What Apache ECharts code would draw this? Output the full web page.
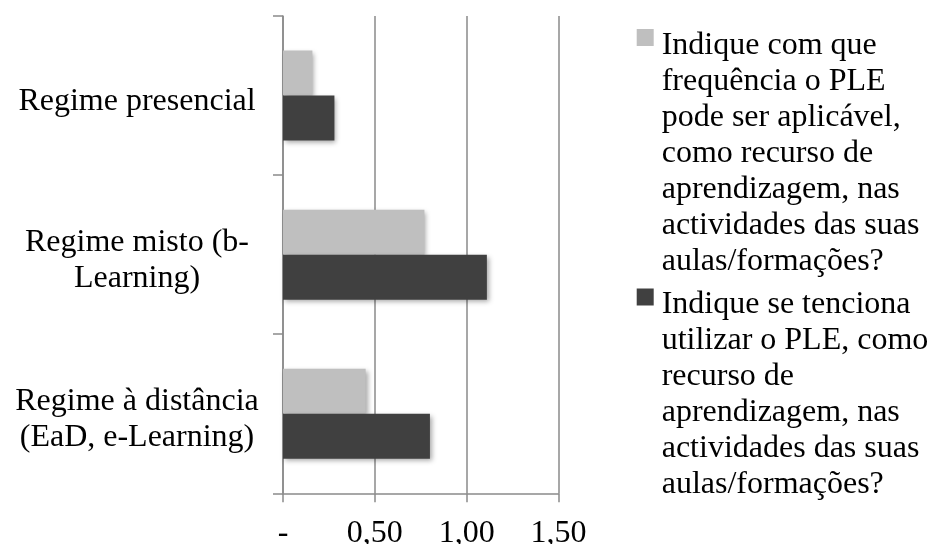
<!DOCTYPE html>
<html>
<head>
<meta charset="utf-8">
<script src="https://cdn.jsdelivr.net/npm/echarts@6/dist/echarts.min.js"></script>
<style>
  html, body { margin: 0; padding: 0; background: #ffffff; }
  #chart { width: 931px; height: 544px; }
</style>
</head>
<body>
<div id="chart"></div>
<script>
// Teaching regimes (category axis, top to bottom)
const categories = [
  'Regime presencial',
  'Regime misto (b-\nLearning)',
  'Regime à distância\n(EaD, e-Learning)'
];

// Survey questions, wrapped as shown in the legend
const seriesNames = [
  'Indique com que\nfrequência o PLE\npode ser aplicável,\ncomo recurso de\naprendizagem, nas\nactividades das suas\naulas/formações?',
  'Indique se tenciona\nutilizar o PLE, como\nrecurso de\naprendizagem, nas\nactividades das suas\naulas/formações?'
];

// Mean scores per regime
const frequencyValues = [0.16, 0.77, 0.45];
const intentionValues = [0.28, 1.11, 0.80];

// Value axis tick labels (0 is shown as a dash)
const xTickLabels = ['-', '0,50', '1,00', '1,50'];

const seriesColors = ['#bfbfbf', '#404040'];
const FONT = "'Liberation Serif', 'Times New Roman', serif";
const FONT_SIZE = 32;
const LINE_H = 36;
const axisGray = '#8a8a8a';

const chart = echarts.init(document.getElementById('chart'));

const baseText = { fontFamily: FONT, fontSize: FONT_SIZE, lineHeight: LINE_H, color: '#000' };

// Legend entries: coloured square on the first line (sitting slightly above the
// text's middle), wrapped lines indented under the text
function legendText(name) {
  const idx = seriesNames.indexOf(name);
  return name.split('\n').map(function (line, k) {
    return k === 0
      ? '{sq' + idx + '|}{gap|}{t0|' + line + '}'
      : '{pad|}{t|' + line + '}';
  }).join('\n');
}

// Category labels: nudged down a little from the band centre
function categoryText(value) {
  return value.split('\n').map(function (line, k) {
    return (k === 0 ? '{f|' : '{n|') + line + '}';
  }).join('\n');
}

const LEGEND_PAD = 16;
const LABEL_PAD = 12;

chart.setOption({
  animation: false,
  backgroundColor: '#ffffff',
  grid: {
    left: 283, top: 16, width: 275.5, height: 477.3,
    containLabel: false,
    outerBoundsMode: 'none'
  },
  legend: {
    orient: 'vertical',
    left: 631.7,
    top: 11.5,
    padding: 0,
    itemGap: -8.5,
    icon: 'none',
    itemWidth: 0,
    itemHeight: 0,
    selectedMode: true,
    formatter: legendText,
    textStyle: Object.assign({}, baseText, {
      rich: {
        sq0: { width: 17, height: 17, backgroundColor: seriesColors[0] },
        sq1: { width: 17, height: 17, backgroundColor: seriesColors[1] },
        gap: { width: 8 },
        pad: { width: 25 },
        t0: Object.assign({}, baseText, { padding: [LEGEND_PAD, 0, 0, 0], lineHeight: LINE_H + LEGEND_PAD }),
        t: Object.assign({}, baseText)
      }
    }),
    data: seriesNames
  },
  xAxis: {
    type: 'value',
    min: 0,
    max: 1.5,
    interval: 0.5,
    axisLine: { show: true, lineStyle: { color: axisGray, width: 1.5 } },
    axisTick: { show: true, length: 9, lineStyle: { color: axisGray, width: 1.5 } },
    splitLine: { show: true, lineStyle: { color: axisGray, width: 1.5 } },
    axisLabel: {
      margin: 24,
      fontFamily: FONT,
      fontSize: FONT_SIZE,
      lineHeight: 32,
      color: '#000',
      formatter: function (v) { return xTickLabels[Math.round(v / 0.5)]; }
    }
  },
  yAxis: {
    type: 'category',
    inverse: true,
    data: categories,
    axisLine: { show: true, lineStyle: { color: axisGray, width: 1.5 } },
    axisTick: { show: true, length: 10, lineStyle: { color: axisGray, width: 1.5 } },
    axisLabel: Object.assign({}, baseText, {
      margin: 146,
      align: 'center',
      formatter: categoryText,
      rich: {
        f: Object.assign({}, baseText, { padding: [LABEL_PAD, 0, 0, 0], lineHeight: LINE_H + LABEL_PAD, align: 'center' }),
        n: Object.assign({}, baseText, { align: 'center' })
      }
    })
  },
  series: [
    {
      name: seriesNames[0],
      type: 'bar',
      data: frequencyValues,
      barWidth: 45,
      barGap: '0%',
      itemStyle: {
        color: seriesColors[0],
        shadowColor: 'rgba(0,0,0,0.35)',
        shadowBlur: 5,
        shadowOffsetX: 2,
        shadowOffsetY: 2
      }
    },
    {
      name: seriesNames[1],
      type: 'bar',
      data: intentionValues,
      barWidth: 45,
      barGap: '0%',
      itemStyle: {
        color: seriesColors[1],
        shadowColor: 'rgba(0,0,0,0.35)',
        shadowBlur: 5,
        shadowOffsetX: 2,
        shadowOffsetY: 2
      }
    }
  ]
});
</script>
</body>
</html>
